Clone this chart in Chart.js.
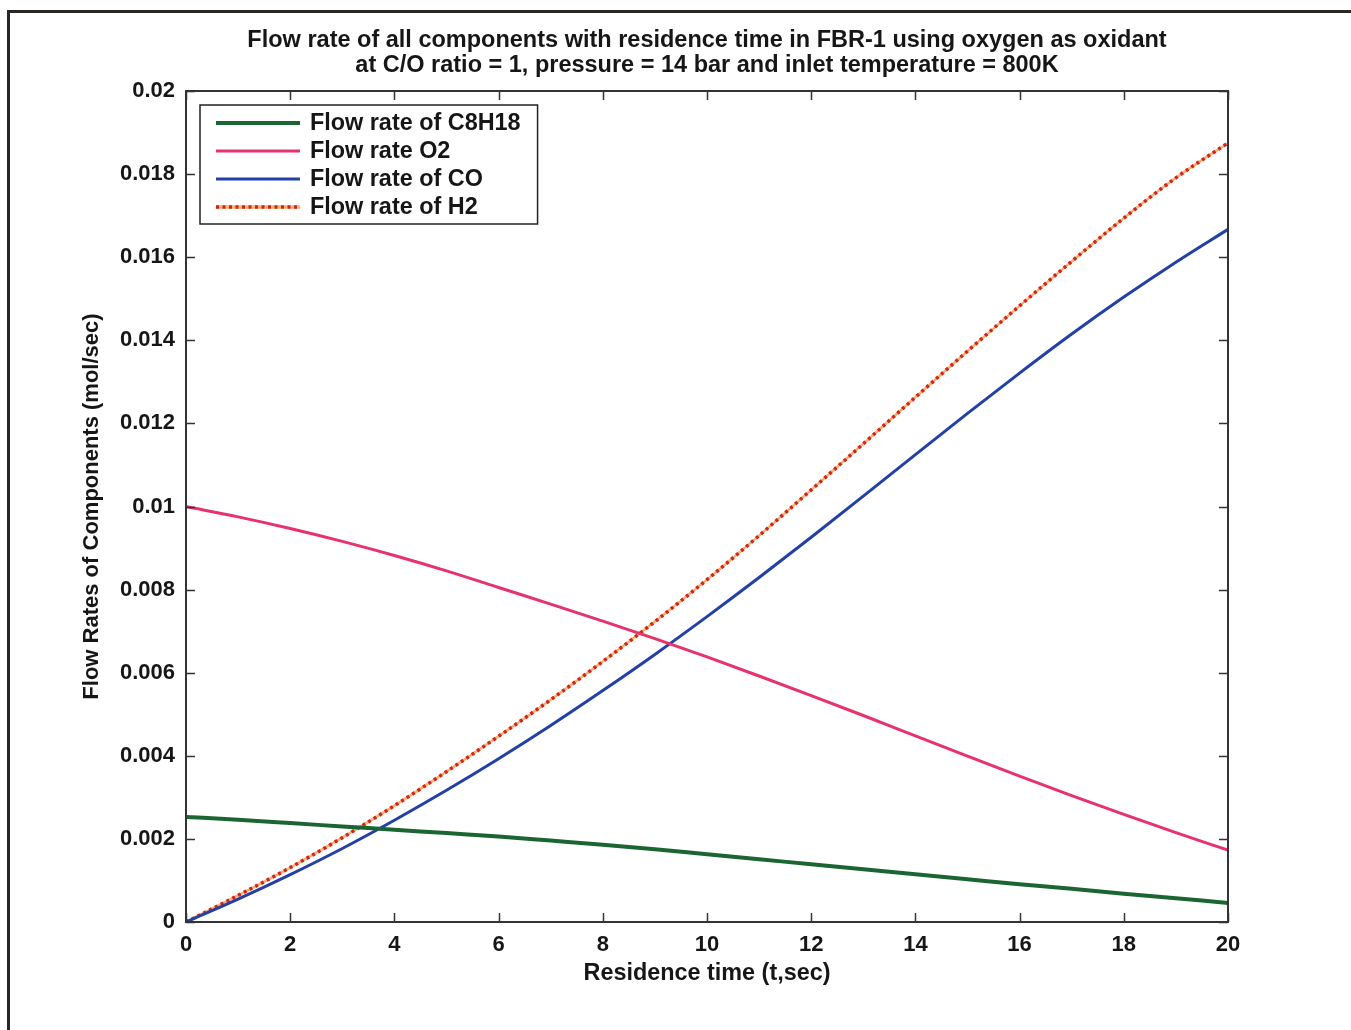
<!DOCTYPE html>
<html>
<head>
<meta charset="utf-8">
<title>Flow rate of all components - FBR-1</title>
<script src="https://cdn.jsdelivr.net/npm/chart.js@4.4.1/dist/chart.umd.min.js"></script>
<style>
  html, body { margin: 0; padding: 0; background: #fff; }
  #wrap { width: 1351px; height: 1030px; position: relative; }
</style>
</head>
<body>
<div id="wrap"><canvas id="flowChart"></canvas></div>
<script>
// residence time (s) and flow rates (mol/s)
let timeSec = [0, 1, 2, 3, 4, 5, 6, 7, 8, 9, 10, 11, 12, 13, 14, 15, 16, 17, 18, 19, 20];
let c8h18Flow = [0.00253, 0.00246, 0.00238, 0.00230, 0.00222, 0.00214, 0.00206, 0.00196, 0.00186, 0.00175,
  0.00163, 0.00151, 0.00139, 0.00127, 0.00115, 0.00103, 0.00091, 0.00080, 0.00068, 0.00057, 0.00046];
let o2Flow = [0.01000, 0.00975, 0.00947, 0.00916, 0.00882, 0.00845, 0.00805, 0.00765, 0.00724, 0.00682,
  0.00638, 0.00592, 0.00545, 0.00497, 0.00448, 0.00399, 0.00351, 0.00304, 0.00259, 0.00215, 0.00173];
let coFlow = [0, 0.00055, 0.00114, 0.00177, 0.00245, 0.00317, 0.00393, 0.00473, 0.00557, 0.00644,
  0.00735, 0.00829, 0.00926, 0.01025, 0.01125, 0.01224, 0.01321, 0.01415, 0.01504, 0.01588, 0.01667];
let h2Flow = [0, 0.00064, 0.00131, 0.00203, 0.00280, 0.00362, 0.00447, 0.00535, 0.00627, 0.00723,
  0.00824, 0.00930, 0.01040, 0.01151, 0.01263, 0.01374, 0.01483, 0.01590, 0.01694, 0.01791, 0.01875];

let xTickLabels = ["0", "2", "4", "6", "8", "10", "12", "14", "16", "18", "20"];
let yTickLabels = ["0", "0.002", "0.004", "0.006", "0.008", "0.01", "0.012", "0.014", "0.016", "0.018", "0.02"];

let fontFamily = "'Liberation Sans', Arial, Helvetica, sans-serif";
let inkColor = "#161616";

toPoints = (values) => timeSec.map((t, i) => ({ x: t, y: values[i] }));

// figure border, plot box and MATLAB-style inward ticks
let axesBox = {
  id: "axesBox",
  afterDraw: (chart) => {
    let ctx = chart.ctx;
    let area = chart.chartArea;
    let xs = chart.scales.x;
    let ys = chart.scales.y;
    ctx.save();
    ctx.strokeStyle = "#2a2622";
    ctx.lineWidth = 3;
    ctx.strokeRect(8.5, 11.5, chart.width + 40, chart.height + 40);

    ctx.strokeStyle = "#333";
    ctx.lineWidth = 2;
    ctx.strokeRect(area.left, area.top, area.right - area.left, area.bottom - area.top);

    ctx.lineWidth = 1.5;
    ctx.beginPath();
    xs.ticks.forEach((t) => {
      let px = Math.round(xs.getPixelForValue(t.value)) + 0.5;
      ctx.moveTo(px, area.bottom);
      ctx.lineTo(px, area.bottom - 9);
      ctx.moveTo(px, area.top);
      ctx.lineTo(px, area.top + 9);
    });
    ys.ticks.forEach((t) => {
      let py = Math.round(ys.getPixelForValue(t.value)) + 0.5;
      ctx.moveTo(area.left, py);
      ctx.lineTo(area.left + 9, py);
      ctx.moveTo(area.right, py);
      ctx.lineTo(area.right - 9, py);
    });
    ctx.stroke();
    ctx.restore();
  },
};

// boxed legend in the upper left corner of the plot
let boxLegend = {
  id: "boxLegend",
  afterDatasetsDraw: (chart) => {
    let ctx = chart.ctx;
    let area = chart.chartArea;
    let items = chart.data.datasets.filter((d) => d.label);
    ctx.save();
    ctx.font = "bold 23.4px " + fontFamily;
    let textW = Math.max(...items.map((d) => ctx.measureText(d.label).width));
    let left = area.left + 14;
    let top = area.top + 14;
    let rowH = 28;
    let w = 110 + textW + 17;
    let h = items.length * rowH + 7;
    ctx.fillStyle = "#fff";
    ctx.fillRect(left, top, w, h);
    ctx.strokeStyle = "#222";
    ctx.lineWidth = 1.5;
    ctx.strokeRect(left, top, w, h);

    items.forEach((d, i) => {
      let y = top + 18 + i * rowH;
      if (d.dashBase) {
        ctx.setLineDash([]);
        ctx.strokeStyle = d.dashBase;
        ctx.lineWidth = d.borderWidth;
        ctx.beginPath();
        ctx.moveTo(left + 16, y);
        ctx.lineTo(left + 100, y);
        ctx.stroke();
      }
      ctx.setLineDash(d.borderDash || []);
      ctx.strokeStyle = d.borderColor;
      ctx.lineWidth = d.borderWidth;
      ctx.beginPath();
      ctx.moveTo(left + 16, y);
      ctx.lineTo(left + 100, y);
      ctx.stroke();
      ctx.setLineDash([]);
      ctx.fillStyle = inkColor;
      ctx.textBaseline = "middle";
      ctx.textAlign = "left";
      ctx.fillText(d.label, left + 110, y + 1);
    });
    ctx.restore();
  },
};

displayChart = () => {
  let ctx = document.getElementById("flowChart").getContext("2d");
  let lineBase = {
    pointRadius: 0,
    fill: false,
    cubicInterpolationMode: "monotone",
    borderCapStyle: "round",
  };
  new Chart(ctx, {
    type: "line",
    data: {
      datasets: [
        Object.assign({}, lineBase, {
          label: "Flow rate of C8H18",
          data: toPoints(c8h18Flow),
          borderColor: "#1b6532",
          borderWidth: 4,
        }),
        Object.assign({}, lineBase, {
          label: "Flow rate O2",
          data: toPoints(o2Flow),
          borderColor: "#e8326b",
          borderWidth: 3,
        }),
        Object.assign({}, lineBase, {
          label: "Flow rate of CO",
          data: toPoints(coFlow),
          borderColor: "#2240a6",
          borderWidth: 3,
        }),
        Object.assign({}, lineBase, {
          label: "Flow rate of H2",
          data: toPoints(h2Flow),
          borderColor: "#d3241c",
          borderWidth: 3.5,
          borderDash: [3, 3.5],
          borderCapStyle: "butt",
          dashBase: "#f6b070",
        }),
        // orange underlay showing between the red dots of H2
        Object.assign({}, lineBase, {
          data: toPoints(h2Flow),
          borderColor: "#f6b070",
          borderWidth: 2.5,
        }),
      ],
    },
    options: {
      responsive: true,
      maintainAspectRatio: false,
      animation: false,
      layout: {
        padding: { left: 70, right: 123, top: 0, bottom: 28 },
      },
      plugins: {
        legend: { display: false },
        tooltip: { enabled: false },
        title: {
          display: true,
          fullSize: false,
          text: [
            "Flow rate of all components with residence time in FBR-1 using oxygen as oxidant",
            "at C/O ratio = 1, pressure = 14 bar and inlet temperature = 800K",
          ],
          color: inkColor,
          font: { family: fontFamily, size: 23.5, weight: "bold", lineHeight: 1.064 },
          padding: { top: 28.5, bottom: 12.5 },
        },
      },
      scales: {
        x: {
          type: "linear",
          min: 0,
          max: 20,
          grid: { display: false, drawTicks: false },
          border: { display: false },
          afterFit: (scale) => {
            scale.height = 80;
          },
          ticks: {
            stepSize: 2,
            autoSkip: false,
            maxRotation: 0,
            padding: 10,
            color: inkColor,
            font: { family: fontFamily, size: 22, weight: "bold" },
            callback: (v, i) => xTickLabels[i],
          },
          title: {
            display: true,
            text: "Residence time (t,sec)",
            color: inkColor,
            font: { family: fontFamily, size: 23.4, weight: "bold", lineHeight: 1.2 },
            padding: { top: 0, bottom: 14 },
          },
        },
        y: {
          min: 0,
          max: 0.02,
          grid: { display: false, drawTicks: false },
          border: { display: false },
          afterFit: (scale) => {
            scale.width = 116;
          },
          ticks: {
            stepSize: 0.002,
            autoSkip: false,
            maxTicksLimit: 20,
            padding: 11,
            color: inkColor,
            font: { family: fontFamily, size: 22, weight: "bold" },
            callback: (v, i) => yTickLabels[i],
          },
          title: {
            display: true,
            text: "Flow Rates of Components (mol/sec)",
            color: inkColor,
            font: { family: fontFamily, size: 22, weight: "bold", lineHeight: 1.2 },
            padding: { top: 9, bottom: 0 },
          },
        },
      },
    },
    plugins: [boxLegend, axesBox],
  });
};

window.onload = () => {
  displayChart();
};
</script>
</body>
</html>
